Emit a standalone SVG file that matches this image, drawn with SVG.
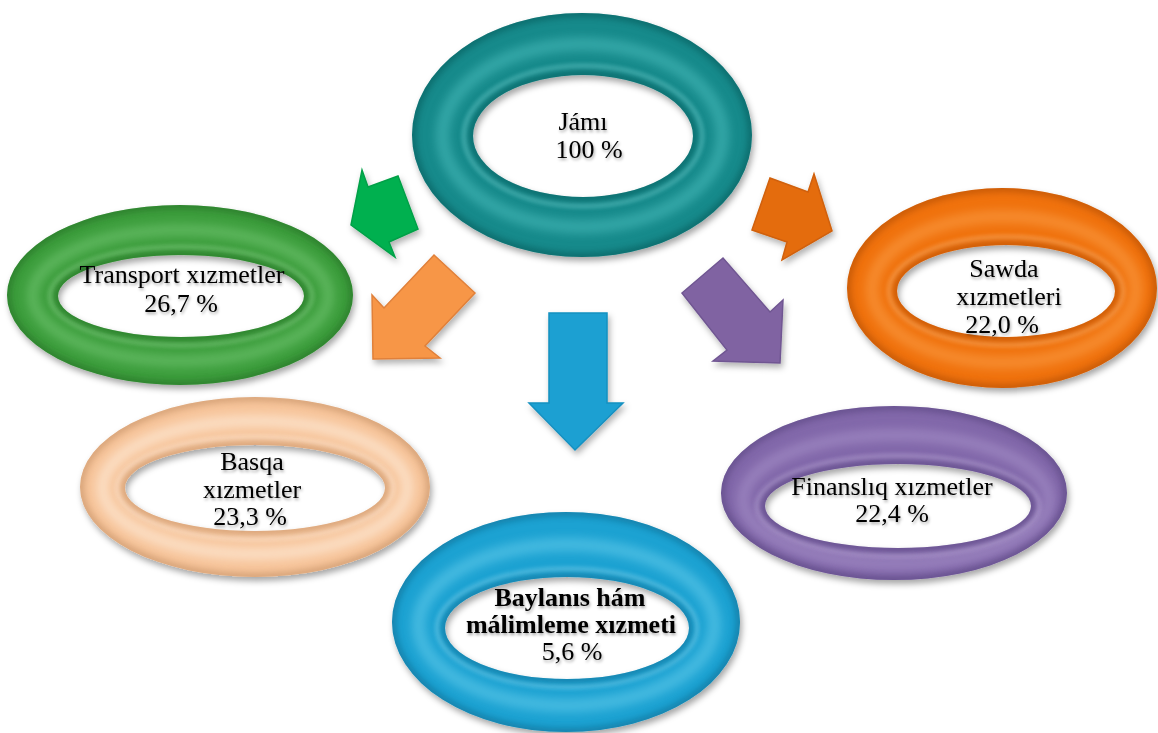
<svg xmlns="http://www.w3.org/2000/svg" xmlns:xlink="http://www.w3.org/1999/xlink" width="1158" height="733" viewBox="0 0 1158 733">
<style>
.lbl{font-family:"Liberation Serif","Times New Roman",serif;font-size:26px;fill:#000;text-anchor:middle;filter:url(#tsh)}
.b{font-weight:bold}
.hl{fill:none;filter:url(#b5)}
.lip{fill:none;filter:url(#b2);opacity:0.4}
.edge{fill:none;filter:url(#b3);opacity:0.45}
.arrow{stroke-width:1.5;stroke-linejoin:miter;filter:url(#ash)}
</style>
<defs>
<filter id="rsh" x="-10%" y="-10%" width="120%" height="130%"><feDropShadow dx="2" dy="4" stdDeviation="3" flood-color="#000" flood-opacity="0.35"/></filter>
<filter id="ash" x="-20%" y="-20%" width="140%" height="150%"><feDropShadow dx="2" dy="4" stdDeviation="3" flood-color="#000" flood-opacity="0.3"/></filter>
<filter id="tsh" x="-10%" y="-30%" width="120%" height="160%"><feDropShadow dx="1" dy="2" stdDeviation="1.5" flood-color="#000" flood-opacity="0.35"/></filter>
<filter id="b5" x="-10%" y="-20%" width="120%" height="140%"><feGaussianBlur stdDeviation="5"/></filter>
<filter id="b3" x="-10%" y="-20%" width="120%" height="140%"><feGaussianBlur stdDeviation="3"/></filter>
<filter id="b2" x="-10%" y="-20%" width="120%" height="140%"><feGaussianBlur stdDeviation="2.2"/></filter>
<path id="r-jami" fill-rule="evenodd" clip-rule="evenodd" d="M412 135A170 122 0 1 0 752 135A170 122 0 1 0 412 135ZM473 136A110 61 0 1 0 693 136A110 61 0 1 0 473 136Z"/>
<path id="r-trans" fill-rule="evenodd" clip-rule="evenodd" d="M7 295A173 90 0 1 0 353 295A173 90 0 1 0 7 295ZM58 296A123 41 0 1 0 304 296A123 41 0 1 0 58 296Z"/>
<path id="r-sawda" fill-rule="evenodd" clip-rule="evenodd" d="M847 288A155 100 0 1 0 1157 288A155 100 0 1 0 847 288ZM897 291A109 46 0 1 0 1115 291A109 46 0 1 0 897 291Z"/>
<path id="r-fin" fill-rule="evenodd" clip-rule="evenodd" d="M721 493A173 87 0 1 0 1067 493A173 87 0 1 0 721 493ZM765 506A133 42 0 1 0 1031 506A133 42 0 1 0 765 506Z"/>
<path id="r-basqa" fill-rule="evenodd" clip-rule="evenodd" d="M80 487A175 90 0 1 0 430 487A175 90 0 1 0 80 487ZM125 488A130 43 0 1 0 385 488A130 43 0 1 0 125 488Z"/>
<path id="r-bay" fill-rule="evenodd" clip-rule="evenodd" d="M392 622A174 110 0 1 0 740 622A174 110 0 1 0 392 622ZM445 628A122 51 0 1 0 689 628A122 51 0 1 0 445 628Z"/>
<clipPath id="c-jami"><use xlink:href="#r-jami"/></clipPath>
<clipPath id="c-trans"><use xlink:href="#r-trans"/></clipPath>
<clipPath id="c-sawda"><use xlink:href="#r-sawda"/></clipPath>
<clipPath id="c-fin"><use xlink:href="#r-fin"/></clipPath>
<clipPath id="c-basqa"><use xlink:href="#r-basqa"/></clipPath>
<clipPath id="c-bay"><use xlink:href="#r-bay"/></clipPath>
</defs>
<rect width="1158" height="733" fill="#fff"/>

<g id="connectors">
<polygon class="arrow" fill="#00b050" stroke="#00a047" points="362,170 368,187 398,176 418,229 389,242 395,257 351,225"/>
<polygon class="arrow" fill="#f79646" stroke="#e0803a" points="434,255 475,293 425,346 440,358 373,359 372,295 384,308"/>
<polygon class="arrow" fill="#1ca0d2" stroke="#1590c0" points="549,313 607,313 607,403 623,403 575,450 529,403 549,403"/>
<polygon class="arrow" fill="#e46c0a" stroke="#d06008" points="752,230 770,178 808,192 814,174 832,231 782,260 787,242"/>
<polygon class="arrow" fill="#8064a2" stroke="#705692" points="682,293 723,258 770,312 783,300 780,363 713,361 727,350"/>
</g>

<g id="node-jami">
<g filter="url(#rsh)"><use xlink:href="#r-jami" fill="#178a8b"/></g>
<g clip-path="url(#c-jami)">
<ellipse class="edge" cx="582" cy="135" rx="170" ry="122" stroke="#06494a" stroke-width="8"/>
<ellipse class="hl" cx="582.5" cy="135.5" rx="140" ry="91.5" stroke="#5fcfcf" stroke-width="14" opacity="0.4"/>
<ellipse class="lip" cx="583" cy="136" rx="119" ry="70" stroke="#8fe6e6" stroke-width="4"/>
<ellipse class="edge" cx="583" cy="136" rx="110" ry="61" stroke="#06494a" stroke-width="7"/>
</g>
<text class="lbl" x="583" y="130">Jámı</text>
<text class="lbl" x="589" y="158">100 %</text>
</g>

<g id="node-transport">
<g filter="url(#rsh)"><use xlink:href="#r-trans" fill="#3d9e3d"/></g>
<g clip-path="url(#c-trans)">
<ellipse class="edge" cx="180" cy="295" rx="173" ry="90" stroke="#1a5e1a" stroke-width="8"/>
<ellipse class="hl" cx="180.5" cy="295.5" rx="148" ry="65.5" stroke="#8ad88a" stroke-width="12" opacity="0.4"/>
<ellipse class="lip" cx="181" cy="296" rx="131" ry="49" stroke="#b0eab0" stroke-width="4"/>
<ellipse class="edge" cx="181" cy="296" rx="123" ry="41" stroke="#1a5e1a" stroke-width="7"/>
</g>
<text class="lbl" x="182" y="283">Transport xızmetler</text>
<text class="lbl" x="181" y="312">26,7 %</text>
</g>

<g id="node-sawda">
<g filter="url(#rsh)"><use xlink:href="#r-sawda" fill="#f0720f"/></g>
<g clip-path="url(#c-sawda)">
<ellipse class="edge" cx="1002" cy="288" rx="155" ry="100" stroke="#9a3f00" stroke-width="8"/>
<ellipse class="hl" cx="1004" cy="289.5" rx="132" ry="73" stroke="#ffb060" stroke-width="13" opacity="0.4"/>
<ellipse class="lip" cx="1006" cy="291" rx="117" ry="54" stroke="#ffd09a" stroke-width="4"/>
<ellipse class="edge" cx="1006" cy="291" rx="109" ry="46" stroke="#9a3f00" stroke-width="7"/>
</g>
<text class="lbl" x="1004" y="277">Sawda</text>
<text class="lbl" x="1009" y="305">xızmetleri</text>
<text class="lbl" x="1002" y="333">22,0 %</text>
</g>

<g id="node-finans">
<g filter="url(#rsh)"><use xlink:href="#r-fin" fill="#8268aa"/></g>
<g clip-path="url(#c-fin)">
<ellipse class="edge" cx="894" cy="493" rx="173" ry="87" stroke="#4a3870" stroke-width="8"/>
<ellipse class="hl" cx="896" cy="499.5" rx="153" ry="64.5" stroke="#b8a4d8" stroke-width="12" opacity="0.4"/>
<ellipse class="lip" cx="898" cy="506" rx="141" ry="50" stroke="#d4c6ec" stroke-width="4"/>
<ellipse class="edge" cx="898" cy="506" rx="133" ry="42" stroke="#4a3870" stroke-width="7"/>
</g>
<text class="lbl" x="892" y="495">Finanslıq xızmetler</text>
<text class="lbl" x="892" y="522">22,4 %</text>
</g>

<g id="node-basqa">
<g filter="url(#rsh)"><use xlink:href="#r-basqa" fill="#f7c59b"/></g>
<g clip-path="url(#c-basqa)">
<ellipse class="edge" cx="255" cy="487" rx="175" ry="90" stroke="#b07a50" stroke-width="8"/>
<ellipse class="hl" cx="255" cy="487.5" rx="152.5" ry="66.5" stroke="#fff2e4" stroke-width="12" opacity="0.55"/>
<ellipse class="lip" cx="255" cy="488" rx="138" ry="51" stroke="#fffaf4" stroke-width="4"/>
<ellipse class="edge" cx="255" cy="488" rx="130" ry="43" stroke="#b07a50" stroke-width="7"/>
</g>
<text class="lbl" x="252" y="470">Basqa</text>
<text class="lbl" x="252" y="498">xızmetler</text>
<text class="lbl" x="250" y="525">23,3 %</text>
</g>

<g id="node-baylanis">
<g filter="url(#rsh)"><use xlink:href="#r-bay" fill="#1ba2d2"/></g>
<g clip-path="url(#c-bay)">
<ellipse class="edge" cx="566" cy="622" rx="174" ry="110" stroke="#075a7c" stroke-width="8"/>
<ellipse class="hl" cx="566.5" cy="625" rx="148" ry="80.5" stroke="#7fdcf5" stroke-width="14" opacity="0.4"/>
<ellipse class="lip" cx="567" cy="628" rx="130" ry="59" stroke="#aeeafa" stroke-width="4"/>
<ellipse class="edge" cx="567" cy="628" rx="122" ry="51" stroke="#075a7c" stroke-width="7"/>
</g>
<text class="lbl b" x="570" y="606">Baylanıs hám</text>
<text class="lbl b" x="571" y="633">málimleme xızmeti</text>
<text class="lbl" x="572" y="660">5,6 %</text>
</g>
</svg>
